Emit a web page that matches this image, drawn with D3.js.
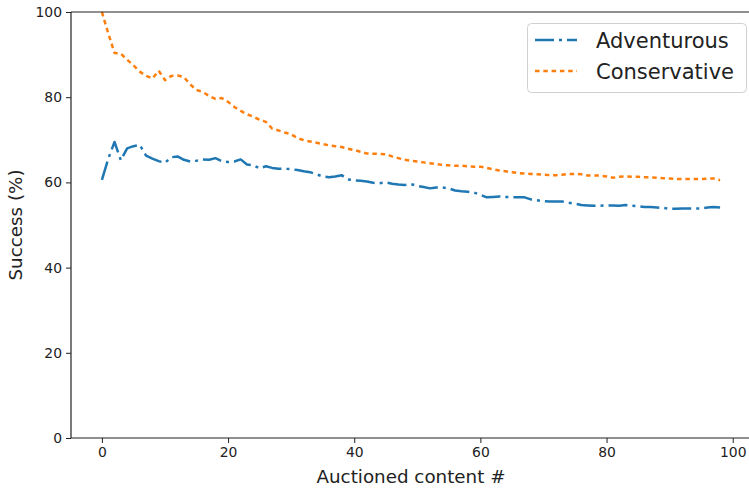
<!DOCTYPE html>
<html>
<head>
<meta charset="utf-8">
<script src="https://cdn.jsdelivr.net/npm/d3@7"></script>
<style>
  html, body { margin: 0; padding: 0; background: #fff; }
  svg { display: block; font-family: "DejaVu Sans", sans-serif; }
</style>
</head>
<body>
<svg id="chart" width="749" height="489"></svg>
<script>
// Success rate per auctioned content, for the two bidding strategies
const adventurous = [
  60.6, 65.5, 69.5, 65.2, 68.0, 68.5, 68.8, 66.3, 65.6, 65.0,
  64.6, 65.9, 66.1, 65.3, 64.9, 65.1, 65.4, 65.3, 65.7, 65.0,
  64.8, 64.9, 65.4, 64.2, 64.0, 63.3, 63.8, 63.4, 63.2, 63.2,
  63.1, 62.9, 62.6, 62.4, 61.9, 61.4, 61.2, 61.4, 61.7, 60.7,
  60.5, 60.4, 60.2, 59.9, 59.8, 60.0, 59.7, 59.5, 59.4, 59.6,
  59.2, 58.9, 58.6, 58.8, 58.8, 58.6, 58.1, 57.9, 57.8, 57.6,
  57.1, 56.5, 56.6, 56.7, 56.6, 56.5, 56.5, 56.5, 56.0, 55.8,
  55.6, 55.5, 55.5, 55.5, 55.2, 55.0, 54.7, 54.6, 54.5, 54.5,
  54.6, 54.6, 54.5, 54.7, 54.5, 54.4, 54.2, 54.2, 54.1, 54.0,
  53.8, 53.8, 53.9, 53.9, 53.9, 53.9, 54.1, 54.2, 54.1
];
const conservative = [
  100.0, 95.0, 90.4, 90.2, 88.8, 87.5, 86.0, 85.0, 84.4, 86.2,
  84.0, 85.0, 85.1, 84.7, 83.0, 81.7, 81.2, 80.3, 79.6, 79.8,
  78.9, 77.7, 76.8, 76.0, 75.4, 74.7, 74.2, 72.6, 72.2, 71.7,
  71.3, 70.4, 69.9, 69.6, 69.3, 69.0, 68.7, 68.5, 68.3, 67.9,
  67.6, 67.2, 66.8, 66.7, 66.7, 66.6, 66.1, 65.7, 65.3, 65.1,
  64.9, 64.7, 64.5, 64.3, 64.1, 64.0, 63.9, 63.9, 63.8, 63.7,
  63.7, 63.4, 63.1, 62.8, 62.6, 62.4, 62.2, 62.1, 62.0, 61.9,
  61.8, 61.7, 61.7, 61.8, 62.0, 62.0, 61.9, 61.6, 61.6, 61.6,
  61.4, 61.1, 61.3, 61.4, 61.3, 61.3, 61.2, 61.2, 61.1, 61.0,
  60.9, 60.8, 60.8, 60.8, 60.8, 60.8, 60.9, 60.9, 60.5
];
const seriesNames = ["Adventurous", "Conservative"];
const xTicks = [0, 20, 40, 60, 80, 100];
const yTicks = [0, 20, 40, 60, 80, 100];

const series = [
  { name: seriesNames[0], values: adventurous, color: "#1f77b4", dash: "19,5,3,5" },
  { name: seriesNames[1], values: conservative, color: "#ff7f0e", dash: "4.5,3.8" }
];

const svg = d3.select("#chart");
const plotL = 71, plotR = 751, plotT = 12, plotB = 438;

const n = adventurous.length - 1;
const pad = n * 0.05;
const x = d3.scaleLinear().domain([-pad, n + pad]).range([plotL, plotR]);
const y = d3.scaleLinear().domain([0, 100]).range([plotB, plotT]);

// plot lines
const line = d3.line().x((d, i) => x(i)).y(d => y(d));
series.forEach(s => {
  svg.append("path")
    .datum(s.values)
    .attr("d", line)
    .attr("fill", "none")
    .attr("stroke", s.color)
    .attr("stroke-width", 2.5)
    .attr("stroke-dasharray", s.dash)
    .attr("stroke-linejoin", "round");
});

// frame
const frame = svg.append("g").attr("stroke", "#222").attr("stroke-width", 1.2).attr("fill", "none");
frame.append("line").attr("x1", plotL).attr("x2", plotR).attr("y1", plotT).attr("y2", plotT);
frame.append("line").attr("x1", plotR).attr("x2", plotR).attr("y1", plotT).attr("y2", plotB);

// axes
const xAxis = svg.append("g")
  .attr("transform", `translate(0,${plotB})`)
  .call(d3.axisBottom(x).tickValues(xTicks).tickSize(5).tickPadding(4).tickFormat(d3.format("d")));
const yAxis = svg.append("g")
  .attr("transform", `translate(${plotL},0)`)
  .call(d3.axisLeft(y).tickValues(yTicks).tickSize(5).tickPadding(4).tickFormat(d3.format("d")));

[xAxis, yAxis].forEach(g => {
  g.select(".domain").attr("stroke", "#222").attr("stroke-width", 1.2);
  g.selectAll(".tick line").attr("stroke", "#222").attr("stroke-width", 1);
  g.selectAll(".tick text")
    .attr("fill", "#222")
    .style("font-family", "DejaVu Sans, sans-serif")
    .style("font-size", "13.9px");
});
xAxis.select(".domain").attr("d", `M${plotL},0H${plotR}`);
yAxis.select(".domain").attr("d", `M0,${plotT}V${plotB}`);

// axis titles
svg.append("text")
  .attr("x", (plotL + plotR) / 2)
  .attr("y", 483)
  .attr("text-anchor", "middle")
  .attr("fill", "#222")
  .style("font-size", "18.3px")
  .text("Auctioned content #");

svg.append("text")
  .attr("transform", `translate(22,${(plotT + plotB) / 2}) rotate(-90)`)
  .attr("text-anchor", "middle")
  .attr("fill", "#222")
  .style("font-size", "18.3px")
  .text("Success (%)");

// legend
const legend = svg.append("g");
legend.append("rect")
  .attr("x", 527.5).attr("y", 23.5)
  .attr("width", 219).attr("height", 69)
  .attr("rx", 4)
  .attr("fill", "#fff").attr("fill-opacity", 0.8)
  .attr("stroke", "#d0d0d0").attr("stroke-width", 1);

series.forEach((s, i) => {
  const cy = 40 + i * 31;
  legend.append("line")
    .attr("x1", 535).attr("x2", 577)
    .attr("y1", cy).attr("y2", cy)
    .attr("stroke", s.color)
    .attr("stroke-width", 2.5)
    .attr("stroke-dasharray", s.dash);
  legend.append("text")
    .attr("x", 596)
    .attr("y", cy + 7.5)
    .attr("fill", "#222")
    .style("font-size", "21px")
    .text(s.name);
});
</script>
</body>
</html>
